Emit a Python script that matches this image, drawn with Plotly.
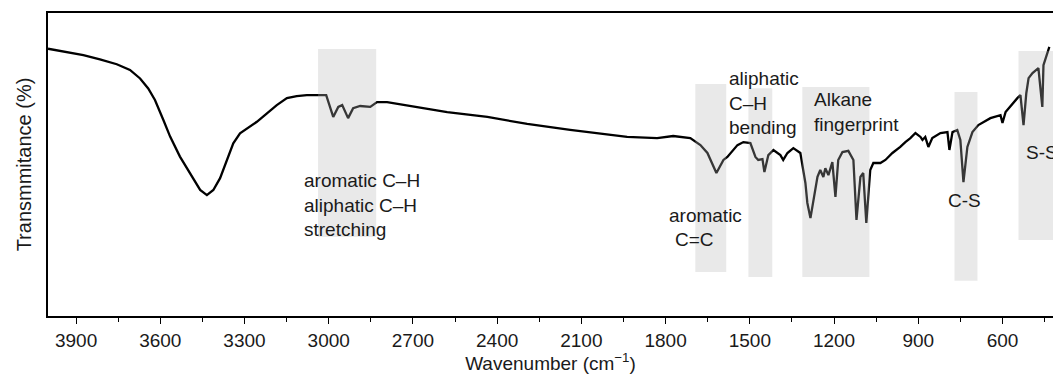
import plotly.graph_objects as go

# FTIR spectrum (wavenumber in cm-1, transmittance in arbitrary %)
wavenumber = [4000, 3874, 3815, 3755, 3708, 3672, 3643, 3619, 3589, 3565, 3530, 3488, 3458, 3434,
              3411, 3387, 3363, 3340, 3316, 3292, 3256, 3220, 3185, 3149, 3114, 3078, 3042, 3009,
              2984, 2966, 2952, 2931, 2913, 2888, 2852, 2828, 2792, 2710, 2578, 2435, 2293, 2140,
              2022, 1937, 1830, 1773, 1712, 1676, 1651, 1619, 1594, 1580, 1544, 1523, 1498, 1480,
              1470, 1455, 1448, 1434, 1416, 1391, 1381, 1366, 1345, 1320, 1302, 1295, 1284, 1274,
              1259, 1249, 1238, 1231, 1220, 1206, 1195, 1185, 1170, 1149, 1131, 1120, 1106, 1096,
              1085, 1071, 1060, 1035, 1017, 992, 964, 946, 928, 910, 892, 885, 875, 864, 850, 821,
              796, 789, 778, 761, 750, 739, 725, 707, 686, 643, 607, 600, 589, 547, 536, 525, 515,
              507, 493, 472, 458, 454, 440, 433]
transmittance = [88.2, 86.1, 84.7, 83.1, 81.2, 78.4, 75.1, 71.3, 64.7, 59.2, 52.6, 46.0, 41.6, 39.9,
                 41.6, 45.5, 51.5, 57.0, 60.3, 61.9, 64.1, 66.9, 69.6, 71.9, 72.6, 72.9, 72.9, 72.9,
                 65.7, 69.0, 69.6, 65.3, 68.6, 69.3, 69.0, 70.6, 70.6, 69.3, 67.3, 65.7, 63.4, 61.4,
                 60.1, 59.1, 58.7, 59.4, 58.7, 56.4, 53.8, 47.2, 51.5, 52.5, 56.4, 57.4, 57.1, 52.5,
                 51.5, 51.8, 47.5, 53.1, 54.8, 53.1, 51.5, 53.8, 55.4, 53.8, 43.9, 37.3, 32.3, 38.3,
                 45.9, 48.2, 45.9, 48.8, 46.5, 50.8, 39.3, 51.5, 54.1, 54.5, 51.5, 31.7, 45.9, 47.2,
                 30.7, 48.2, 50.5, 50.5, 51.5, 53.8, 55.8, 57.4, 58.7, 60.4, 59.1, 58.1, 59.1, 55.8,
                 58.7, 60.4, 60.7, 54.8, 60.7, 61.4, 58.1, 44.2, 55.8, 60.7, 63.0, 65.3, 66.3, 63.7,
                 67.3, 71.9, 72.9, 63.0, 73.6, 78.5, 80.2, 81.8, 69.0, 82.8, 86.8, 88.8]

# Highlighted band regions (wavenumber from, to) and their vertical extent
band_x0 = [3038, 1694, 1505, 1313, 771, 543]
band_x1 = [2831, 1584, 1420, 1074, 689, 420]
band_y0 = [26.1, 14.5, 12.9, 12.9, 11.6, 25.1]
band_y1 = [88.1, 76.6, 75.2, 75.6, 73.9, 87.5]

# Labels
label_text = ["aromatic C–H<br>aliphatic C–H<br>stretching", "aromatic", "C=C",
              "aliphatic<br>C–H<br>bending", "Alkane<br>fingerprint", "C-S", "S-S"]
label_x = [3095, 1794, 1773, 1580, 1277, 736, 525]
label_y = [36.6, 33.3, 25.1, 70.3, 67.3, 38.0, 54.1]
label_anchor = ["left", "left", "left", "left", "left", "center", "left"]

tick_vals = [3900, 3600, 3300, 3000, 2700, 2400, 2100, 1800, 1500, 1200, 900, 600]

FONT = "Liberation Sans, Arial, sans-serif"
TXT = "#1a1a1a"

fig = go.Figure()
fig.add_trace(go.Scatter(x=wavenumber, y=transmittance, mode="lines",
                         line=dict(color="black", width=2.3), showlegend=False,
                         hoverinfo="skip"))

for x0, x1, y0, y1 in zip(band_x0, band_x1, band_y0, band_y1):
    fig.add_shape(type="rect", xref="x", yref="y", x0=x0, x1=x1, y0=y0, y1=y1,
                  fillcolor="rgba(183,183,183,0.3)", line=dict(width=0), layer="above")

for t, x, y, a in zip(label_text, label_x, label_y, label_anchor):
    fig.add_annotation(x=x, y=y, xref="x", yref="y", text=t, showarrow=False,
                       xanchor=a, yanchor="middle", align="left",
                       font=dict(family=FONT, size=19, color=TXT))

fig.update_layout(
    width=1053, height=374,
    margin=dict(l=48, r=0, t=13, b=58),
    plot_bgcolor="white", paper_bgcolor="white",
    font=dict(family=FONT, size=19, color=TXT),
)
fig.update_xaxes(
    range=[4000, 420], showgrid=False, zeroline=False,
    showline=True, linecolor="black", linewidth=1.5, mirror=True,
    ticks="outside", ticklen=6, tickwidth=1.2, tickcolor="black",
    tickvals=tick_vals, ticktext=[str(v) for v in tick_vals],
    minor=dict(tickvals=[v - 150 for v in tick_vals] + [4050], ticks="outside",
               ticklen=4, tickwidth=1.2, tickcolor="black"),
    tickfont=dict(family=FONT, size=19, color=TXT),
    title=dict(text="Wavenumber (cm<sup>−1</sup>)", standoff=0,
               font=dict(family=FONT, size=19, color=TXT)),
)
fig.update_yaxes(
    range=[0, 100], showgrid=False, zeroline=False,
    showline=True, linecolor="black", linewidth=1.5, mirror=False,
    showticklabels=False, ticks="",
    title=dict(text="Transmmitance (%)", standoff=9,
               font=dict(family=FONT, size=20, color=TXT)),
)

fig.write_html("out.html", config={"displayModeBar": False},
               post_script="document.body.style.margin='0';document.body.style.overflow='hidden';")
